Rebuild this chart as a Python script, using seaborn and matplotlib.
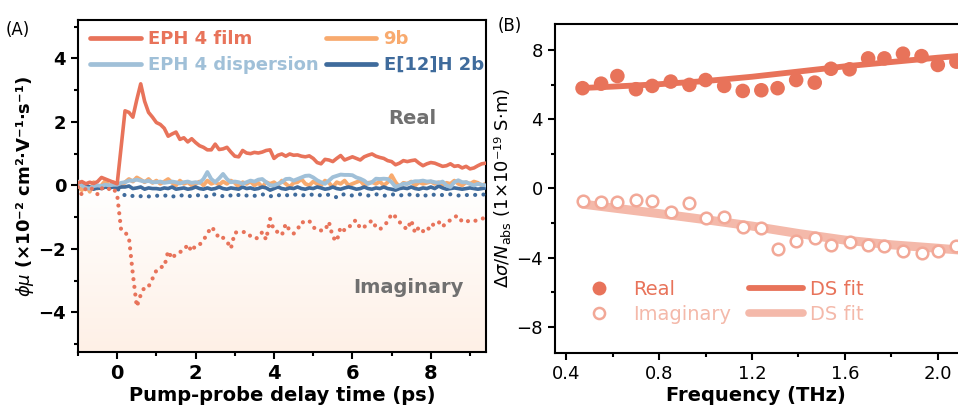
import numpy as np
import matplotlib
matplotlib.use("Agg")
import matplotlib.pyplot as plt
import seaborn as sns
from matplotlib.colors import LinearSegmentedColormap
from matplotlib.ticker import MultipleLocator
from matplotlib.lines import Line2D

sns.set_theme(style="ticks")
plt.rcParams['font.family'] = ['DejaVu Sans']
plt.rcParams['mathtext.fontset'] = 'dejavusans'
for k in ['text.color', 'axes.labelcolor', 'xtick.color', 'ytick.color']:
    plt.rcParams[k] = 'black'

# ---- panel A: photoconductivity vs delay ----
delay = [-1.0, -0.9, -0.8, -0.7, -0.6, -0.5, -0.4, -0.3, -0.2, -0.1,
         0.0, 0.1, 0.2, 0.3, 0.4, 0.5, 0.6, 0.7, 0.8, 0.9,
         1.0, 1.1, 1.2, 1.3, 1.4, 1.5, 1.6, 1.7, 1.8, 1.9,
         2.0, 2.1, 2.2, 2.3, 2.4, 2.5, 2.6, 2.7, 2.8, 2.9,
         3.0, 3.1, 3.2, 3.3, 3.4, 3.5, 3.6, 3.7, 3.8, 3.9,
         4.0, 4.1, 4.2, 4.3, 4.4, 4.5, 4.6, 4.7, 4.8, 4.9,
         5.0, 5.1, 5.2, 5.3, 5.4, 5.5, 5.6, 5.7, 5.8, 5.9,
         6.0, 6.1, 6.2, 6.3, 6.4, 6.5, 6.6, 6.7, 6.8, 6.9,
         7.0, 7.1, 7.2, 7.3, 7.4, 7.5, 7.6, 7.7, 7.8, 7.9,
         8.0, 8.1, 8.2, 8.3, 8.4, 8.5, 8.6, 8.7, 8.8, 8.9,
         9.0, 9.1, 9.2, 9.3, 9.4]

film_re = [0.08, 0.12, 0.05, 0.10, 0.06, 0.12, 0.25, 0.20, 0.15, 0.10,
           0.05, 1.20, 2.35, 2.30, 2.15, 2.70, 3.20, 2.65, 2.30, 2.15,
           1.98, 1.92, 1.80, 1.55, 1.62, 1.68, 1.45, 1.50, 1.37, 1.47,
           1.35, 1.25, 1.20, 1.12, 1.12, 1.30, 1.13, 1.15, 1.20, 1.05,
           0.92, 0.90, 1.10, 1.02, 1.00, 1.04, 1.02, 1.05, 1.10, 1.12,
           0.85, 0.95, 0.99, 0.92, 0.99, 0.95, 0.96, 0.92, 0.90, 0.93,
           0.85, 0.72, 0.68, 0.82, 0.80, 0.75, 0.85, 0.94, 0.80, 0.85,
           0.90, 0.85, 0.80, 0.90, 0.95, 0.99, 0.92, 0.88, 0.85, 0.78,
           0.75, 0.65, 0.70, 0.78, 0.75, 0.78, 0.80, 0.70, 0.62, 0.68,
           0.72, 0.70, 0.65, 0.60, 0.62, 0.68, 0.60, 0.62, 0.55, 0.60,
           0.52, 0.55, 0.62, 0.68, 0.70]

film_im = [-0.05, -0.30, -0.10, -0.05, -0.15, -0.28, -0.10, -0.05, -0.12, -0.08,
           -0.30, -1.40, -1.47, -1.65, -2.80, -3.82, -3.45, -3.20, -3.19, -2.94,
           -2.68, -2.57, -2.57, -2.07, -2.31, -2.15, -2.10, -2.05, -1.86, -2.08,
           -1.89, -1.87, -1.73, -1.52, -1.31, -1.44, -1.68, -1.65, -1.76, -1.99,
           -1.49, -1.47, -1.47, -1.47, -1.60, -1.68, -1.65, -1.47, -1.71, -1.05,
           -1.42, -1.47, -1.57, -1.21, -1.42, -1.52, -1.39, -1.15, -1.18, -1.12,
           -1.31, -1.42, -1.42, -1.42, -1.15, -1.63, -1.76, -1.31, -1.42, -1.36,
           -1.15, -1.10, -1.36, -1.31, -1.21, -1.10, -1.31, -1.39, -1.26, -1.15,
           -0.89, -0.99, -1.15, -1.29, -1.39, -1.10, -1.50, -1.31, -1.44, -1.47,
           -1.21, -1.26, -1.15, -1.31, -1.15, -1.10, -0.99, -0.96, -1.15, -1.15,
           -1.10, -1.12, -1.10, -1.05, -1.02]

disp_re = [0.12, 0.00, -0.08, -0.10, -0.02, 0.00, -0.02, 0.02, 0.00, 0.02,
           0.02, 0.08, 0.10, 0.15, 0.15, 0.18, 0.15, 0.12, 0.14, 0.10,
           0.10, 0.12, 0.08, 0.10, 0.12, 0.10, 0.06, 0.10, 0.12, 0.08,
           0.10, 0.08, 0.20, 0.42, 0.20, 0.10, 0.22, 0.36, 0.20, 0.10,
           0.12, 0.10, 0.05, 0.10, 0.15, 0.12, 0.18, 0.20, 0.10, 0.00,
           0.00, 0.05, 0.10, 0.20, 0.21, 0.15, 0.20, 0.25, 0.30, 0.31,
           0.25, 0.16, 0.10, 0.05, 0.15, 0.26, 0.30, 0.34, 0.33, 0.33,
           0.32, 0.25, 0.21, 0.15, 0.05, 0.10, 0.21, 0.20, 0.21, 0.20,
           0.10, -0.05, 0.00, 0.05, 0.05, 0.10, 0.13, 0.13, 0.15, 0.12,
           0.13, 0.10, 0.08, 0.12, 0.00, -0.05, 0.10, 0.16, 0.10, 0.10,
           0.05, 0.00, 0.05, 0.02, 0.00]

e12_re = [0.10, 0.05, 0.00, -0.05, -0.12, -0.08, -0.10, -0.05, -0.08, -0.05,
          -0.08, -0.05, -0.05, -0.02, -0.10, -0.08, -0.05, -0.12, -0.08, -0.10,
          -0.10, -0.12, -0.08, -0.10, -0.05, -0.12, -0.10, -0.08, -0.12, -0.10,
          -0.05, -0.10, -0.12, -0.08, -0.12, -0.10, -0.05, -0.10, -0.12, -0.08,
          -0.10, -0.12, -0.05, -0.10, -0.08, -0.12, -0.10, -0.05, -0.08, -0.15,
          -0.10, -0.05, -0.10, -0.12, -0.08, -0.10, -0.05, -0.10, -0.12, -0.08,
          -0.10, -0.05, -0.08, -0.12, -0.10, -0.05, -0.10, -0.12, -0.08, -0.05,
          -0.08, -0.12, -0.10, -0.05, -0.10, -0.12, -0.08, -0.10, -0.05, -0.10,
          -0.12, -0.15, -0.10, -0.08, -0.10, -0.05, -0.10, -0.12, -0.08, -0.10,
          -0.05, -0.10, -0.02, -0.08, -0.12, -0.10, -0.08, -0.10, -0.12, -0.10,
          -0.08, -0.10, -0.12, -0.10, -0.08]

e12_im = [-0.05, -0.08, -0.05, -0.10, -0.08, -0.05, -0.08, -0.10, -0.05, -0.08,
          -0.10, -0.20, -0.32, -0.35, -0.33, -0.36, -0.34, -0.32, -0.35, -0.33,
          -0.32, -0.35, -0.33, -0.30, -0.34, -0.36, -0.33, -0.30, -0.32, -0.35,
          -0.33, -0.30, -0.32, -0.35, -0.30, -0.28, -0.32, -0.34, -0.30, -0.32,
          -0.35, -0.30, -0.28, -0.32, -0.30, -0.33, -0.30, -0.28, -0.32, -0.35,
          -0.30, -0.32, -0.28, -0.30, -0.33, -0.30, -0.28, -0.32, -0.30, -0.28,
          -0.30, -0.33, -0.30, -0.28, -0.30, -0.32, -0.38, -0.30, -0.28, -0.30,
          -0.32, -0.30, -0.28, -0.30, -0.32, -0.30, -0.28, -0.30, -0.33, -0.30,
          -0.28, -0.30, -0.32, -0.30, -0.28, -0.30, -0.33, -0.30, -0.35, -0.30,
          -0.28, -0.30, -0.32, -0.30, -0.30, -0.28, -0.30, -0.32, -0.30, -0.30,
          -0.32, -0.30, -0.30, -0.28, -0.30]

b9_re = [-0.05, -0.15, 0.05, -0.20, 0.10, -0.10, 0.00, 0.15, -0.05, 0.10,
         0.05, -0.05, 0.10, 0.20, 0.12, 0.25, 0.18, 0.10, 0.20, 0.08,
         0.15, 0.05, 0.12, 0.20, 0.08, 0.00, 0.15, 0.05, 0.10, 0.00,
         0.05, 0.12, 0.00, 0.15, 0.05, 0.10, 0.02, 0.12, 0.05, 0.15,
         0.08, -0.05, 0.10, 0.05, 0.12, 0.00, 0.08, -0.05, 0.10, 0.05,
         0.10, 0.00, 0.15, 0.05, -0.05, 0.08, 0.10, 0.20, 0.05, 0.00,
         0.12, 0.05, 0.00, 0.15, 0.08, -0.05, 0.10, 0.05, 0.15, 0.00,
         0.05, 0.10, 0.15, 0.00, 0.08, 0.10, 0.05, 0.12, 0.00, 0.10,
         0.32, 0.10, -0.05, 0.08, 0.05, 0.12, 0.00, 0.10, 0.05, 0.08,
         0.12, 0.05, 0.10, 0.00, 0.08, 0.05, 0.15, 0.05, 0.00, 0.10,
         0.05, 0.12, 0.08, 0.00, 0.05]

# ---- panel B: conductivity spectrum ----
freq = [0.47, 0.55, 0.62, 0.70, 0.77, 0.85, 0.93, 1.00, 1.08, 1.16, 1.24,
        1.31, 1.39, 1.47, 1.54, 1.62, 1.70, 1.77, 1.85, 1.93, 2.00, 2.08]
sig_re = [5.79, 6.05, 6.49, 5.73, 5.92, 6.17, 5.98, 6.26, 5.92, 5.63, 5.67,
          5.79, 6.26, 6.11, 6.91, 6.88, 7.51, 7.51, 7.78, 7.64, 7.13, 7.32]
sig_im = [-0.73, -0.80, -0.80, -0.69, -0.73, -1.36, -0.84, -1.71, -1.65, -2.22, -2.26,
          -3.52, -3.03, -2.86, -3.28, -3.09, -3.28, -3.32, -3.62, -3.72, -3.60, -3.33]
fit_freq = [0.47, 0.6, 0.8, 1.0, 1.2, 1.4, 1.6, 1.8, 2.0, 2.1]
fit_re = [5.80, 5.88, 6.02, 6.20, 6.45, 6.75, 7.05, 7.30, 7.55, 7.66]
fit_im = [-0.90, -1.12, -1.45, -1.80, -2.17, -2.60, -2.98, -3.25, -3.45, -3.56]

RED = '#E8735A'
ORANGE = '#F8AA6E'
LBLUE = '#A0C0D8'
DBLUE = '#3F6B9C'
PALE = '#F4B9AA'
GRAY = '#707070'

fig = plt.figure(figsize=(9.58, 4.12), dpi=100)
axA = fig.add_axes([0.0814, 0.1456, 0.4256, 0.805])
axB = fig.add_axes([0.579, 0.143, 0.421, 0.799])

# faint gradient under zero
grad = LinearSegmentedColormap.from_list('g', ['#FFFFFF', '#FEF0E6'])
axA.imshow(np.linspace(0, 1, 256).reshape(-1, 1), extent=[-1.0, 9.4, -5.25, 0],
           aspect='auto', cmap=grad, origin='upper', zorder=0)

sns.lineplot(x=delay, y=b9_re, ax=axA, color=ORANGE, lw=2.8, label='9b', zorder=2)
sns.lineplot(x=delay, y=e12_re, ax=axA, color=DBLUE, lw=2.6, label='E[12]H 2b', zorder=3)
sns.lineplot(x=delay, y=disp_re, ax=axA, color=LBLUE, lw=2.8, label='EPH 4 dispersion', zorder=4)
sns.lineplot(x=delay, y=film_re, ax=axA, color=RED, lw=2.6, label='EPH 4 film', zorder=5)
n0 = len(axA.lines)
sns.lineplot(x=delay, y=film_im, ax=axA, color=RED, lw=3.0, linestyle=(0, (0.01, 1.85)), zorder=5)
sns.lineplot(x=delay, y=e12_im, ax=axA, color=DBLUE, lw=3.0, linestyle=(0, (0.01, 2.0)), zorder=3)
for ln in axA.lines[n0:]:
    ln.set_dash_capstyle('round')

axA.set_xlim(-1.0, 9.4)
axA.set_ylim(-5.25, 5.2)
axA.xaxis.set_major_locator(MultipleLocator(2))
axA.xaxis.set_minor_locator(MultipleLocator(1))
axA.yaxis.set_minor_locator(MultipleLocator(1))
axA.set_yticks([-4, -2, 0, 2, 4])
axA.set_yticklabels(['\u22124', '\u22122', '0', '2', '4'])
axA.tick_params(which='both', direction='out', width=1.5)
axA.tick_params(which='major', length=5)
axA.tick_params(which='minor', length=3)
for lab in axA.get_xticklabels():
    lab.set_fontsize(14); lab.set_fontweight('bold')
for lab in axA.get_yticklabels():
    lab.set_fontsize(13); lab.set_fontweight('bold')
for s in axA.spines.values():
    s.set_linewidth(1.5); s.set_color('black')
axA.set_xlabel('Pump-probe delay time (ps)', fontsize=14, fontweight='bold', labelpad=2)
axA.set_ylabel('$\\phi\\mu$ (\u00d710\u207b\u00b2 cm\u00b2\u00b7V\u207b\u00b9\u00b7s\u207b\u00b9)',
               fontsize=13, fontweight='bold', labelpad=2)

h, l = axA.get_legend_handles_labels()
order = [3, 2, 0, 1]
legA = axA.legend([h[i] for i in order], [l[i] for i in order], ncol=2, frameon=False,
                  loc='upper left', bbox_to_anchor=(-0.01, 1.02), handlelength=2.8,
                  handletextpad=0.4, columnspacing=0.4, labelspacing=0.45,
                  prop={'size': 13, 'weight': 'bold'},
                  labelcolor=[RED, LBLUE, ORANGE, DBLUE])
for ln in legA.get_lines():
    ln.set_linewidth(3.4)

axA.text(0.82, 0.705, 'Real', transform=axA.transAxes, color=GRAY, fontsize=14,
         fontweight='bold', ha='center', va='center')
axA.text(0.81, 0.195, 'Imaginary', transform=axA.transAxes, color=GRAY, fontsize=14,
         fontweight='bold', ha='center', va='center')
fig.text(0.006, 0.915, '(A)', fontsize=12)

# panel B
sns.lineplot(x=fit_freq, y=fit_re, ax=axB, color=RED, lw=4.2, zorder=2)
sns.lineplot(x=fit_freq, y=fit_im, ax=axB, color=PALE, lw=6.5, zorder=2)
sns.scatterplot(x=freq, y=sig_re, ax=axB, color=RED, s=110, edgecolor='none', zorder=3)
sns.scatterplot(x=freq, y=sig_im, ax=axB, facecolor='white', edgecolor='#F2A897',
                s=70, linewidth=1.8, zorder=3)

axB.set_xlim(0.35, 2.087)
axB.set_ylim(-9.5, 9.5)
axB.set_xticks([0.4, 0.8, 1.2, 1.6, 2.0])
axB.set_xticklabels(['0.4', '0.8', '1.2', '1.6', '2.0'])
axB.xaxis.set_minor_locator(MultipleLocator(0.2))
axB.set_yticks([-8, -4, 0, 4, 8])
axB.set_yticklabels(['\u22128', '\u22124', '0', '4', '8'])
axB.yaxis.set_minor_locator(MultipleLocator(2))
axB.tick_params(which='both', direction='out', width=1.5, labelsize=13)
axB.tick_params(which='major', length=5)
axB.tick_params(which='minor', length=3)
for s in axB.spines.values():
    s.set_linewidth(1.5); s.set_color('black')
axB.spines['right'].set_visible(False)
axB.set_xlabel('Frequency (THz)', fontsize=14, fontweight='bold', labelpad=2)
axB.set_ylabel('$\\Delta\\sigma/N_{\\rm abs}$ (1\u00d710\u207b\u00b9\u2079 S\u00b7m)', fontsize=13, labelpad=2)

hB = [Line2D([], [], ls='none', marker='o', ms=10, color=RED, mec='none'),
      Line2D([], [], ls='none', marker='o', ms=8, mfc='white', mec='#F2A897', mew=1.8),
      Line2D([], [], color=RED, lw=4.2, solid_capstyle='round'),
      Line2D([], [], color=PALE, lw=5.5, solid_capstyle='round')]
axB.legend(hB, ['Real', 'Imaginary', 'DS fit', 'DS fit'], ncol=2, frameon=False,
           loc='upper left', bbox_to_anchor=(0.0, 0.275), handlelength=2.8,
           handletextpad=0.35, columnspacing=0.9, labelspacing=0.3,
           prop={'size': 14}, labelcolor=[RED, PALE, RED, PALE])
fig.text(0.519, 0.925, '(B)', fontsize=12)

fig.savefig('out.png', dpi=100)
